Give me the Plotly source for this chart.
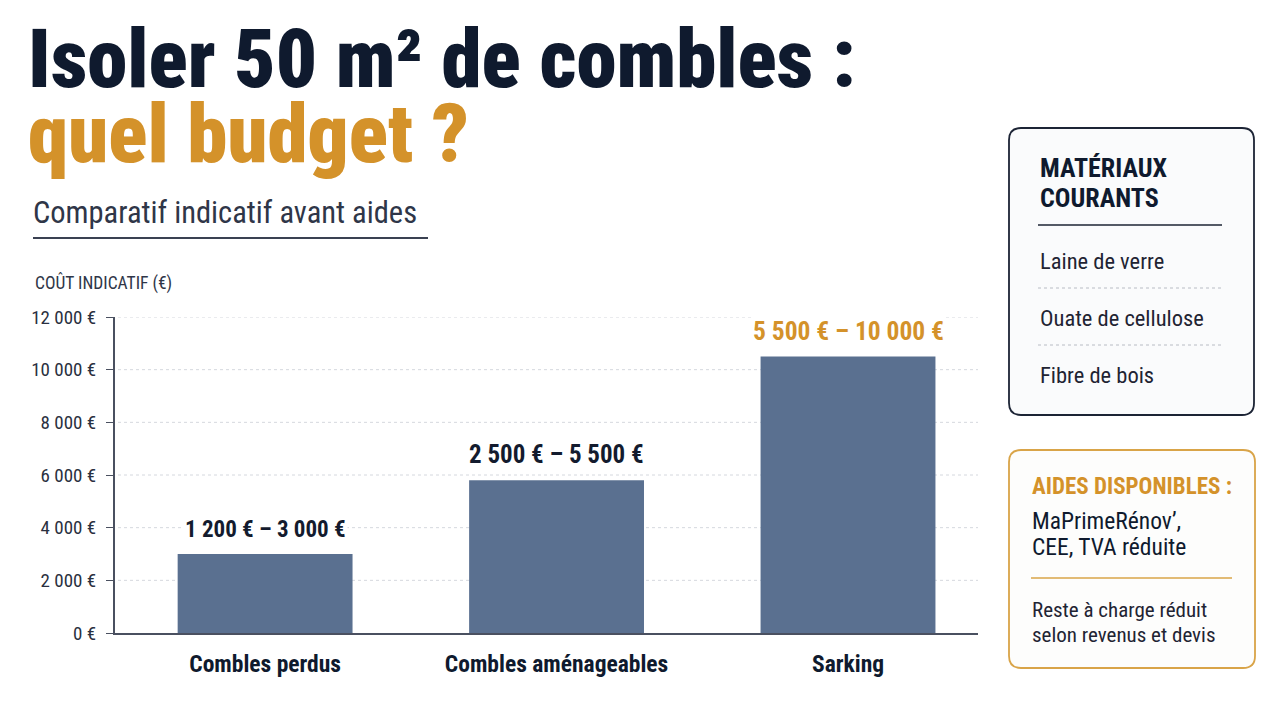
import plotly.graph_objects as go

# ---------------- data ----------------
categories = ["Combles perdus", "Combles aménageables", "Sarking"]
values = [3000, 5800, 10500]
range_labels = ["1 200 € – 3 000 €", "2 500 € – 5 500 €", "5 500 € – 10 000 €"]
label_colors = ["#131b2e", "#131b2e", "#d4922a"]
label_sizes = [23, 25, 25.5]
tick_values = [0, 2000, 4000, 6000, 8000, 10000, 12000]
tick_labels = ["0 €", "2 000 €", "4 000 €", "6 000 €", "8 000 €", "10 000 €", "12 000 €"]
materials_title = ["MATÉRIAUX", "COURANTS"]
materials = ["Laine de verre", "Ouate de cellulose", "Fibre de bois"]
aides_list = ["MaPrimeRénov’,", "CEE, TVA réduite"]
reste_lines = ["Reste à charge réduit", "selon revenus et devis"]

W, H = 1280, 720
OFF = 8  # page body margin
NAVY = "#0f1a2e"
GOLD = "#d4922a"
BAR = "#5a7090"
COND = "Liberation Sans Narrow, Roboto Condensed, Roboto, sans-serif"


def px(x):
    return (x - OFF) / W


def py(y):
    return 1 - (y - OFF) / H


fig = go.Figure()
fig.add_trace(go.Bar(
    x=categories, y=values, marker=dict(color=BAR, line=dict(width=0)),
    width=0.6, hoverinfo="skip", showlegend=False,
))

annotations = []
shapes = []


def text_at(x, y, text, size, color, bold=False, weight=None):
    f = dict(family=COND, size=size, color=color)
    if weight:
        f["weight"] = weight
    annotations.append(dict(x=px(x), y=py(y), xref="paper", yref="paper", xanchor="left",
                            yanchor="middle", showarrow=False,
                            text=f"<b>{text}</b>" if bold else text, font=f))


# bar value labels
for c, v, lab, col, sz in zip(categories, values, range_labels, label_colors, label_sizes):
    annotations.append(dict(
        x=c, y=v, xref="x", yref="y", text=f"<b>{lab}</b>", showarrow=False,
        yanchor="bottom", yshift=9, bgcolor="#ffffff",
        font=dict(family=COND, size=sz, color=col),
    ))

# title
text_at(26, 60, "Isoler 50 m² de combles :", 81, NAVY, weight=900)
text_at(26, 134, "quel budget ?", 81, GOLD, weight=900)
text_at(31, 212, "Comparatif indicatif avant aides", 30.5, "#2f3648")
text_at(33, 283, "COÛT INDICATIF (€)", 17.5, "#2f3648")
shapes.append(dict(type="line", xref="paper", yref="paper", x0=px(33), x1=px(428),
                   y0=py(238), y1=py(238), line=dict(color="#3a4152", width=2)))

# gridlines
for t in tick_values[1:]:
    shapes.append(dict(type="line", xref="paper", yref="y", x0=px(118), x1=px(978),
                       y0=t, y1=t, layer="below",
                       line=dict(color="#d5d8de", width=1, dash="dot")))


def rounded_rect(x0, y0, x1, y1, r):
    X0, X1 = px(x0), px(x1)
    Y0, Y1 = py(y0), py(y1)
    rx, ry = r / W, r / H
    return (f"M {X0+rx},{Y0} L {X1-rx},{Y0} Q {X1},{Y0} {X1},{Y0-ry} "
            f"L {X1},{Y1+ry} Q {X1},{Y1} {X1-rx},{Y1} L {X0+rx},{Y1} "
            f"Q {X0},{Y1} {X0},{Y1+ry} L {X0},{Y0-ry} Q {X0},{Y0} {X0+rx},{Y0} Z")


# box 1 : matériaux
shapes.append(dict(type="path", xref="paper", yref="paper",
                   path=rounded_rect(1009, 128, 1254, 415, 12),
                   fillcolor="#fafbfc", line=dict(color="#1c2435", width=1.8)))
for i, t in enumerate(materials_title):
    text_at(1038, 168 + i * 30, t, 26, NAVY, bold=True)
shapes.append(dict(type="line", xref="paper", yref="paper", x0=px(1038), x1=px(1222),
                   y0=py(225), y1=py(225), line=dict(color="#1c2435", width=1.5)))
for i, m in enumerate(materials):
    yy = 261 + i * 57
    text_at(1038, yy, m, 22.5, "#1f2433")
    if i < len(materials) - 1:
        shapes.append(dict(type="line", xref="paper", yref="paper", x0=px(1038), x1=px(1222),
                           y0=py(yy + 27), y1=py(yy + 27),
                           line=dict(color="#b8bcc4", width=1, dash="dot")))

# box 2 : aides
shapes.append(dict(type="path", xref="paper", yref="paper",
                   path=rounded_rect(1009, 450, 1255, 668, 12),
                   fillcolor="#fdfdfc", line=dict(color="#d9a448", width=1.8)))
text_at(1030, 486, "AIDES DISPONIBLES :", 23, GOLD, bold=True)
for i, t in enumerate(aides_list):
    text_at(1030, 521 + i * 26, t, 23.5, NAVY)
shapes.append(dict(type="line", xref="paper", yref="paper", x0=px(1031), x1=px(1232),
                   y0=py(578), y1=py(578), line=dict(color="#d9a448", width=1.5)))
for i, t in enumerate(reste_lines):
    text_at(1030, 610 + i * 25, t, 21, "#1f2433")

fig.update_layout(
    width=W, height=H, autosize=False,
    margin=dict(l=0, r=0, t=0, b=0, pad=0, autoexpand=False),
    paper_bgcolor="#ffffff", plot_bgcolor="rgba(0,0,0,0)",
    showlegend=False,
    annotations=annotations, shapes=shapes,
    xaxis=dict(domain=[px(115), px(978)], range=[-0.515, 2.446], showgrid=False,
               showline=True, linecolor="#4a5060", linewidth=2, zeroline=False,
               ticks="outside", ticklen=9, tickcolor="rgba(0,0,0,0)",
               tickvals=categories, ticktext=[f"<b>{c}</b>" for c in categories],
               tickfont=dict(family=COND, size=23.5, color=NAVY), fixedrange=True),
    yaxis=dict(domain=[py(633), py(317)], range=[0, 12000], tickvals=tick_values,
               ticktext=tick_labels, showgrid=False, showline=True, linecolor="#4a5060",
               linewidth=2, zeroline=False, ticks="outside", ticklen=7, tickcolor="#4a5060",
               ticklabelstandoff=6,
               tickfont=dict(family=COND, size=19, color="#2a3040"), fixedrange=True),
)

fig.write_html("out.html")
